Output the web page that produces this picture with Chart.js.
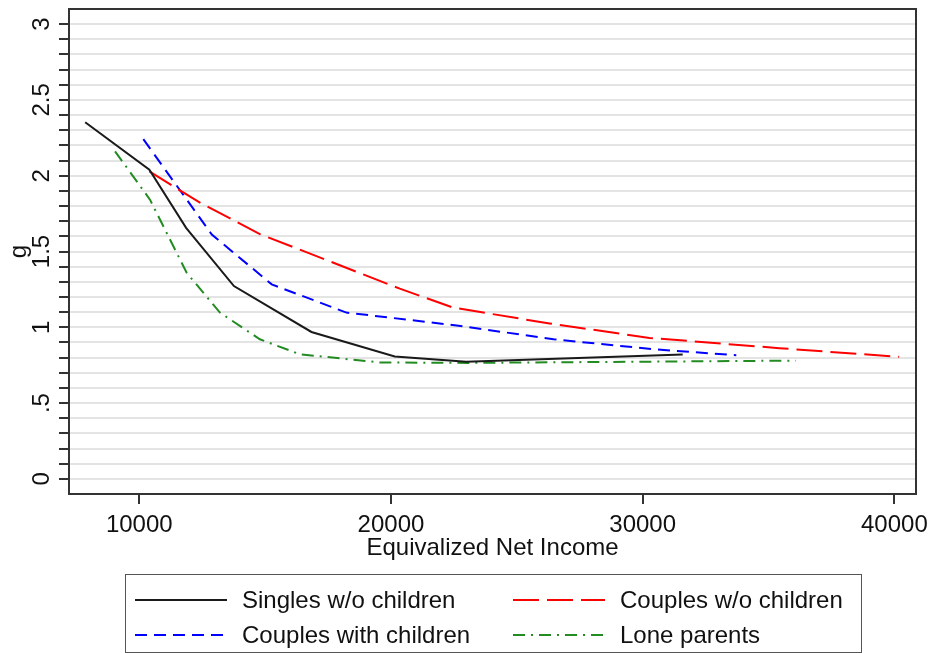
<!DOCTYPE html>
<html>
<head>
<meta charset="utf-8">
<script src="https://cdn.jsdelivr.net/npm/chart.js@4.4.1/dist/chart.umd.min.js"></script>
<style>
  html, body { margin: 0; padding: 0; background: #fff; }
  #wrap { position: relative; width: 931px; height: 653px; overflow: hidden; }
  #chart { position: absolute; left: 0; top: 0; }
  #legend {
    position: absolute; left: 125px; top: 574px; width: 737px; height: 79px;
    border: 1.5px solid #555; box-sizing: border-box;
    font-family: 'Liberation Sans', Arial, sans-serif; font-size: 24px; color: #111;
  }
  .item { position: absolute; display: flex; align-items: center; height: 30px; white-space: nowrap; }
  .item svg { margin-right: 15px; }
</style>
</head>
<body>
<div id="wrap">
  <canvas id="chart" width="931" height="653"></canvas>
  <div id="legend"></div>
</div>
<script>
// values
const incomeSingles = [7850, 10400, 11860, 13760, 16840, 20150, 22990, 31590];
const gSingles      = [2.353, 2.039, 1.656, 1.272, 0.969, 0.807, 0.772, 0.82];

const incomeCouples = [10400, 12410, 14790, 17570, 20350, 22470, 26300, 30270, 35430, 40190];
const gCouples      = [2.028, 1.822, 1.615, 1.435, 1.255, 1.13, 1.025, 0.93, 0.862, 0.805];

const incomeCouplesKids = [10160, 12880, 15260, 18230, 22610, 26460, 30430, 33720];
const gCouplesKids      = [2.241, 1.612, 1.283, 1.097, 1.012, 0.921, 0.855, 0.816];

const incomeLone = [9036, 10425, 11881, 13203, 14790, 16377, 19551, 23070, 36085];
const gLone      = [2.161, 1.842, 1.36, 1.097, 0.921, 0.822, 0.768, 0.765, 0.78];

const xTickValues = [10000, 20000, 30000, 40000];
const yMajorLabels = ['0', '.5', '1', '1.5', '2', '2.5', '3'];

const font = { family: "'Liberation Sans', Arial, sans-serif", size: 24 };
const ink = '#111';

function pts(xs, ys) {
  return xs.map((x, i) => ({ x: x, y: ys[i] }));
}

const framePlugin = {
  id: 'frame',
  beforeDatasetsDraw(chart) {
    const { ctx, chartArea: a } = chart;
    ctx.save();
    ctx.strokeStyle = '#333';
    ctx.lineWidth = 2;
    ctx.strokeRect(a.left, a.top, a.right - a.left, a.bottom - a.top);
    ctx.restore();
  }
};

const chart = new Chart(document.getElementById('chart'), {
  type: 'line',
  data: {
    datasets: [{
      label: 'Singles w/o children',
      data: pts(incomeSingles, gSingles),
      borderColor: '#1a1a1a',
      borderWidth: 2
    }, {
      label: 'Couples w/o children',
      data: pts(incomeCouples, gCouples),
      borderColor: '#ff0000',
      borderWidth: 2,
      borderDash: [26, 8]
    }, {
      label: 'Couples with children',
      data: pts(incomeCouplesKids, gCouplesKids),
      borderColor: '#0000ff',
      borderWidth: 2,
      borderDash: [12, 7]
    }, {
      label: 'Lone parents',
      data: pts(incomeLone, gLone),
      borderColor: '#228b22',
      borderWidth: 2,
      borderDash: [12, 6, 2, 6]
    }]
  },
  options: {
    responsive: false,
    animation: false,
    elements: { point: { radius: 0 }, line: { tension: 0 } },
    layout: { padding: { top: 9, right: 15, bottom: 90, left: 0 } },
    plugins: { legend: { display: false }, tooltip: { enabled: false } },
    scales: {
      x: {
        type: 'linear',
        min: 7207,
        max: 40860,
        afterBuildTicks: s => { s.ticks = xTickValues.map(v => ({ value: v })); },
        afterFit: s => { s.height = 69; s.paddingLeft = 0; s.paddingRight = 0; },
        ticks: { font: font, color: ink, padding: 7, maxRotation: 0, autoSkip: false, callback: v => String(v) },
        grid: { drawOnChartArea: false, tickLength: 10, tickColor: '#333', lineWidth: 2 },
        border: { display: false },
        title: { display: true, text: 'Equivalized Net Income', font: font, color: ink, padding: 0 }
      },
      y: {
        type: 'linear',
        min: -0.1,
        max: 3.1,
        afterBuildTicks: s => {
          const t = [];
          for (let i = 0; i <= 30; i++) t.push({ value: i / 10 });
          s.ticks = t;
        },
        afterFit: s => { s.width = 69; s.paddingTop = 0; s.paddingBottom = 0; },
        ticks: {
          font: font, color: ink, autoSkip: false, minRotation: 90, maxRotation: 90,
          crossAlign: 'center', padding: 0,
          callback: (v, i) => (i % 5 === 0 ? yMajorLabels[i / 5] : '')
        },
        grid: { color: '#e4e4e4', lineWidth: 2, tickLength: 10, tickColor: '#333', tickWidth: 2 },
        border: { display: false },
        title: { display: true, text: 'g', font: font, color: ink, padding: { top: 5, bottom: 0 } }
      }
    }
  },
  plugins: [framePlugin]
});

// boxed two-column legend built from the datasets
const legendEl = document.getElementById('legend');
const colX = [9, 387];
const rowY = [10, 45];
chart.data.datasets.forEach((ds, i) => {
  const item = document.createElement('div');
  item.className = 'item';
  item.style.left = colX[i % 2] + 'px';
  item.style.top = rowY[Math.floor(i / 2)] + 'px';
  const dash = ds.borderDash ? ds.borderDash.join(' ') : 'none';
  item.innerHTML =
    '<svg width="92" height="10"><line x1="0" y1="5" x2="92" y2="5" stroke="' + ds.borderColor +
    '" stroke-width="2" stroke-dasharray="' + dash + '"/></svg><span>' + ds.label + '</span>';
  legendEl.appendChild(item);
});
</script>
</body>
</html>
